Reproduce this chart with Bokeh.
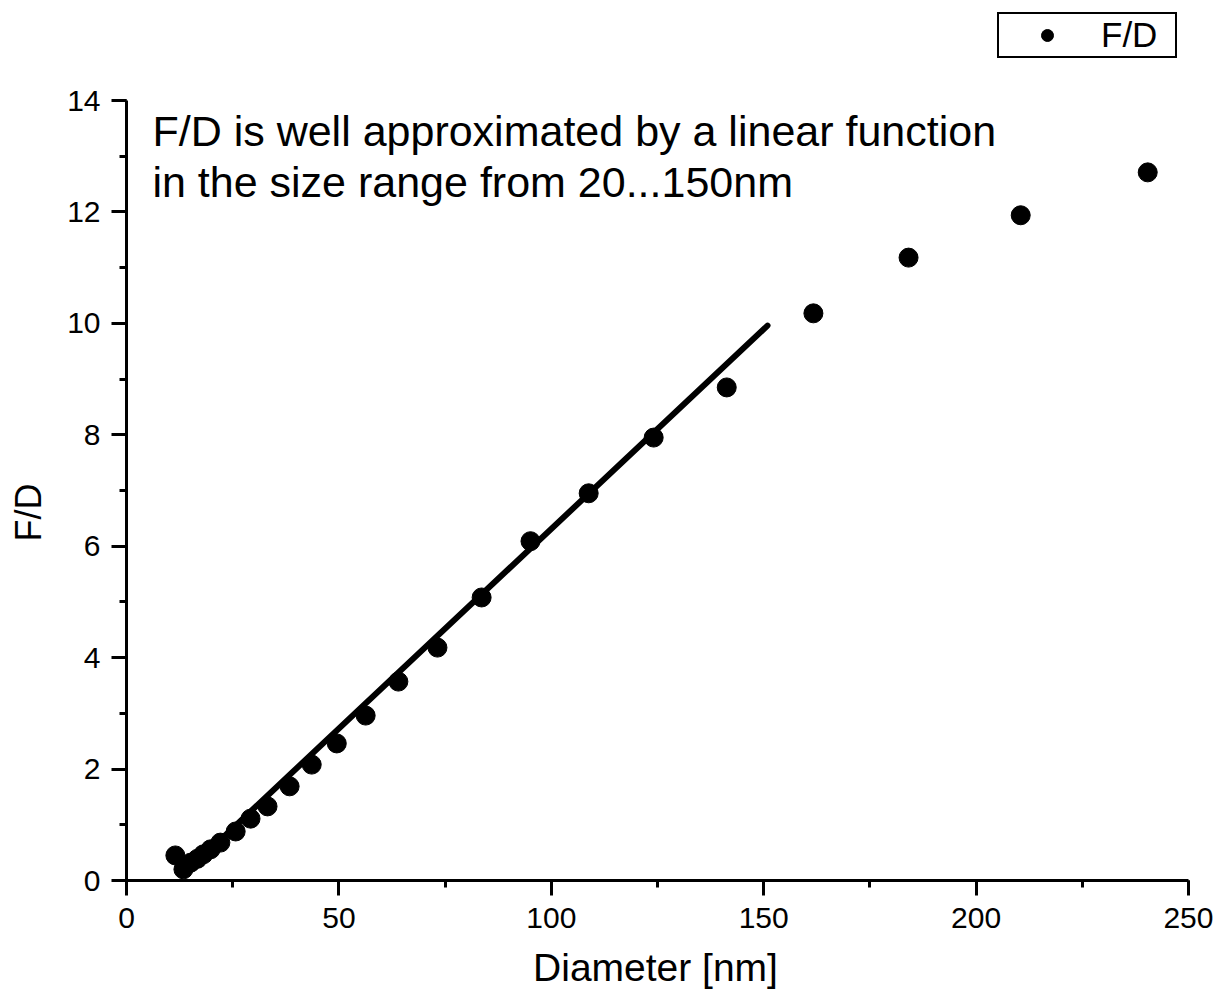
import math
from bokeh.plotting import figure
from bokeh.models import Range1d, SingleIntervalTicker, Label, Legend, LegendItem
from bokeh.embed import file_html
from bokeh.resources import INLINE

# Data
diameter = [11.5, 13.4, 15.1, 16.7, 18.1, 19.8, 22.1, 25.7, 29.2, 33.2, 38.4, 43.6,
            49.5, 56.3, 64.0, 73.2, 83.6, 95.1, 108.8, 124.1, 141.3, 161.7, 184.1,
            210.5, 240.4]
fd = [0.45, 0.20, 0.32, 0.39, 0.47, 0.56, 0.68, 0.88, 1.11, 1.33, 1.69, 2.08,
      2.46, 2.96, 3.57, 4.18, 5.08, 6.09, 6.95, 7.95, 8.85, 10.18, 11.18,
      11.94, 12.71]
fit_x = [13.2, 150.9]
fit_y = [0.09, 9.96]

annotation_lines = ["F/D is well approximated by a linear function",
                    "in the size range from 20...150nm"]
x_label = "Diameter [nm]"
y_label = "F/D"

FONT = "Liberation Sans"

W, H = 1213, 995
X0PX, X1PX = 126, 1188   # pixel columns of x=0 and x=250
Y0PX, Y1PX = 880, 100    # pixel rows of y=0 and y=14
kx = (X1PX - X0PX) / 250.0
ky = (Y0PX - Y1PX) / 14.0

p = figure(frame_width=W, frame_height=H,
           min_border_left=0, min_border_right=0, min_border_top=0, min_border_bottom=0,
           x_range=Range1d(-X0PX / kx, (W - X0PX) / kx),
           y_range=Range1d(-(H - Y0PX) / ky, Y0PX / ky),
           output_backend="svg", toolbar_location=None)

p.xgrid.visible = False
p.ygrid.visible = False
p.outline_line_color = None
p.background_fill_color = "white"
p.border_fill_color = "white"

p.xaxis.ticker = SingleIntervalTicker(interval=50, num_minor_ticks=2)
p.yaxis.ticker = SingleIntervalTicker(interval=2, num_minor_ticks=2)
p.xaxis.bounds = (0, 250)
p.yaxis.bounds = (0, 14)
p.xaxis.fixed_location = 0
p.yaxis.fixed_location = 0

for ax in (p.xaxis, p.yaxis):
    ax.axis_line_width = 3
    ax.axis_line_color = "black"
    ax.major_tick_line_width = 3
    ax.minor_tick_line_width = 3
    ax.major_tick_line_color = "black"
    ax.minor_tick_line_color = "black"
    ax.major_tick_out = 15
    ax.major_tick_in = 0
    ax.minor_tick_out = 7
    ax.minor_tick_in = 0
    ax.major_label_text_font = FONT
    ax.major_label_text_font_size = "30px"
    ax.major_label_text_color = "black"

p.xaxis.major_label_standoff = 12
p.yaxis.major_label_standoff = 11

p.line(fit_x, fit_y, line_width=6, line_color="black", line_cap="round")
r = p.scatter(diameter, fd, marker="circle", size=19, fill_color="black", line_color="black")

p.add_layout(Label(x=6.1, y=13.46, text=annotation_lines[0], text_font=FONT,
                   text_font_size="43px", text_color="black", text_baseline="middle"))
p.add_layout(Label(x=6.1, y=12.53, text=annotation_lines[1], text_font=FONT,
                   text_font_size="43px", text_color="black", text_baseline="middle"))

# axis titles
p.add_layout(Label(x=(655 - X0PX) / kx, y=(Y0PX - 967) / ky, text=x_label, text_font=FONT,
                   text_font_size="39px", text_color="black",
                   text_align="center", text_baseline="middle"))
p.add_layout(Label(x=(28 - X0PX) / kx, y=(Y0PX - 512) / ky, text=y_label, text_font=FONT,
                   text_font_size="36px", text_color="black", angle=math.pi / 2,
                   text_align="center", text_baseline="middle"))

legend = Legend(items=[LegendItem(label="F/D", renderers=[r])],
                location=(997, H - 58), orientation="vertical",
                label_text_font=FONT, label_text_font_size="35px", label_text_color="black",
                glyph_width=94, glyph_height=30, padding=1, margin=0,
                label_standoff=7, label_width=73, spacing=0,
                border_line_color="black", border_line_width=2, border_line_alpha=1,
                background_fill_color="white", background_fill_alpha=1)
p.add_layout(legend, "center")

open("out.html", "w").write(file_html(p, INLINE))
